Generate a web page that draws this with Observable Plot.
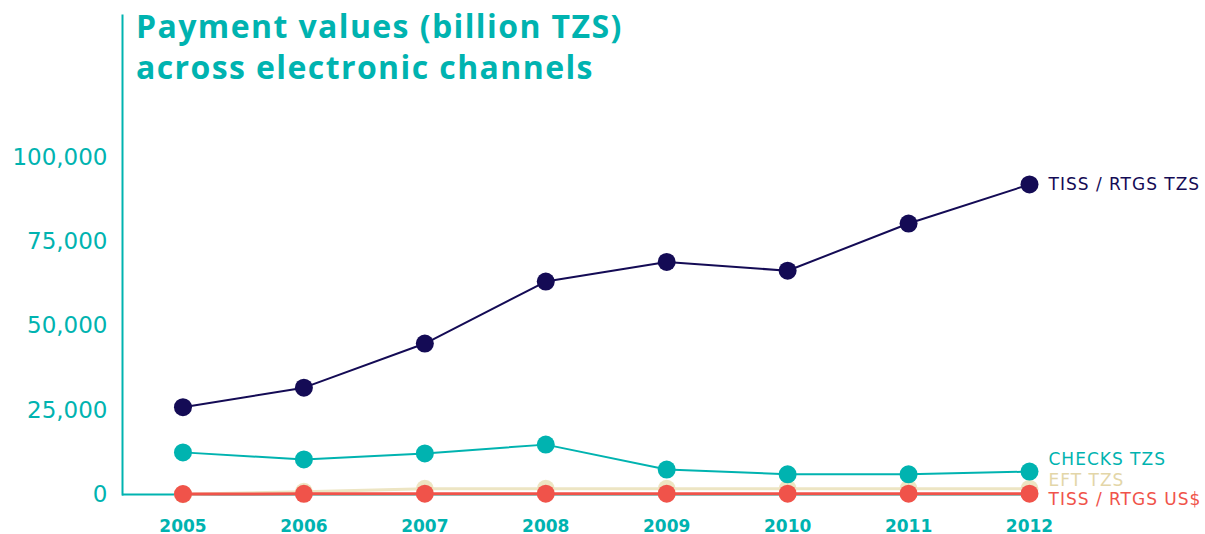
<!DOCTYPE html>
<html>
<head>
<meta charset="utf-8">
<script src="https://cdn.jsdelivr.net/npm/d3@7"></script>
<script src="https://cdn.jsdelivr.net/npm/@observablehq/plot@0.6"></script>
<style>
  html, body { margin: 0; padding: 0; background: #fff; }
  #wrap { position: relative; width: 1205px; height: 534px; }
  #title { position: absolute; left: 136px; top: 5px; font-family: "Open Sans", sans-serif; font-weight: 700; font-size: 32px; line-height: 41px; color: #00b3b0; letter-spacing: 1.4px; }
  svg { display: block; }
  .lbl text { letter-spacing: 1px; }
</style>
</head>
<body>
<div id="wrap">
  <div id="chart"></div>
  <div id="title">Payment values (billion TZS)<br>across electronic channels</div>
</div>
<script>
const years = [2005, 2006, 2007, 2008, 2009, 2010, 2011, 2012];
const rtgsTzs = [25900, 31700, 44800, 63200, 69000, 66400, 80400, 92000];
const checksTzs = [12500, 10400, 12200, 14800, 7400, 6000, 6000, 6800];
const eftTzs = [100, 800, 1700, 1700, 1700, 1700, 1700, 1700];
const rtgsUsd = [150, 200, 250, 250, 250, 250, 250, 250];
const seriesNames = ["TISS / RTGS TZS", "CHECKS TZS", "EFT TZS", "TISS / RTGS US$"];
const yTicks = [0, 25000, 50000, 75000, 100000];

const teal = "#00b3b0", navy = "#140b55", beige = "#ede5c3", red = "#f0534a";

const mk = (vals, name) => years.map((y, i) => ({year: y, value: vals[i], series: name}));
const dRtgs = mk(rtgsTzs, seriesNames[0]);
const dChecks = mk(checksTzs, seriesNames[1]);
const dEft = mk(eftTzs, seriesNames[2]);
const dUsd = mk(rtgsUsd, seriesNames[3]);
const last = arr => [arr[arr.length - 1]];

const font = "DejaVu Sans, sans-serif";

const chart = Plot.plot({
  width: 1205,
  height: 534,
  marginLeft: 122,
  marginRight: 0,
  marginTop: 15,
  marginBottom: 40,
  style: {fontFamily: font, background: "transparent", overflow: "visible"},
  x: {type: "linear", domain: [2004.5, 2012], range: [122, 1029]},
  y: {domain: [0, 100000], range: [494, 157]},
  marks: [
    Plot.frame({anchor: "left", stroke: teal, strokeWidth: 2, strokeOpacity: 1}),
    Plot.ruleY([0], {x1: 2004.5, x2: 2012, stroke: teal, strokeWidth: 2}),
    Plot.axisY(yTicks, {tickSize: 0, tickPadding: 15, tickFormat: d3.format(","), fill: teal, fontSize: 23, fontWeight: "normal", label: null}),
    Plot.axisX(years, {tickSize: 0, tickPadding: 25, tickFormat: d => String(d), fill: teal, fontSize: 17, fontWeight: 600, label: null}),
    Plot.line(dEft, {x: "year", y: "value", stroke: beige, strokeWidth: 3}),
    Plot.dot(dEft, {x: "year", y: "value", r: 9, fill: beige}),
    Plot.line(dUsd, {x: "year", y: "value", stroke: red, strokeWidth: 3}),
    Plot.dot(dUsd, {x: "year", y: "value", r: 9, fill: red}),
    Plot.line(dChecks, {x: "year", y: "value", stroke: teal, strokeWidth: 2}),
    Plot.dot(dChecks, {x: "year", y: "value", r: 9, fill: teal}),
    Plot.line(dRtgs, {x: "year", y: "value", stroke: navy, strokeWidth: 2}),
    Plot.dot(dRtgs, {x: "year", y: "value", r: 9, fill: navy}),
    Plot.text(last(dRtgs), {x: "year", y: "value", text: "series", textAnchor: "start", dx: 19, fill: navy, fontSize: 17, className: "lbl"}),
    Plot.text(last(dChecks), {x: "year", y: "value", text: "series", textAnchor: "start", dx: 19, dy: -12, fill: teal, fontSize: 17, className: "lbl"}),
    Plot.text(last(dEft), {x: "year", y: "value", text: "series", textAnchor: "start", dx: 19, dy: -8, fill: "#e3d6a8", fontSize: 17, className: "lbl"}),
    Plot.text(last(dUsd), {x: "year", y: "value", text: "series", textAnchor: "start", dx: 19, dy: 6, fill: red, fontSize: 17, className: "lbl"})
  ]
});
document.getElementById("chart").appendChild(chart);
</script>
</body>
</html>
